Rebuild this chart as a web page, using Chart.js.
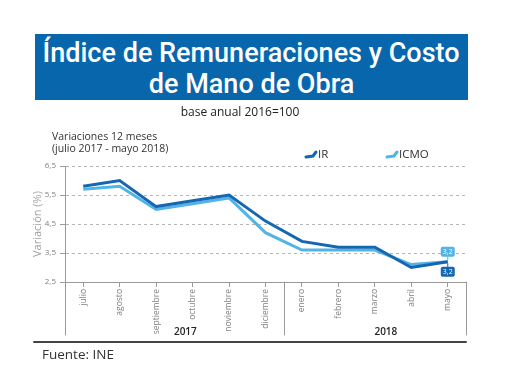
<!DOCTYPE html>
<html>
<head>
<meta charset="utf-8">
<script src="https://cdn.jsdelivr.net/npm/chart.js@4.4.0/dist/chart.umd.min.js"></script>
<style>
  html, body { margin: 0; padding: 0; background: #fff; }
  #wrap { position: relative; width: 520px; height: 390px; overflow: hidden; font-family: 'Open Sans', 'Noto Sans', sans-serif; }
  #chart { position: absolute; left: 0; top: 0; }
  .title {
    position: absolute; left: 35px; top: 34px; width: 433px; height: 66px;
    background: #0866ad; color: #fff; text-align: center;
    font-family: Roboto, 'Noto Sans', sans-serif; font-weight: 500;
    font-size: 28px; line-height: 31px; padding-top: 3px; box-sizing: border-box;
  }
  .title span { display: inline-block; white-space: nowrap; transform-origin: 50% 50%; }
  .subtitle { position: absolute; left: 0; width: 480px; top: 103px; text-align: center; font-size: 12px; color: #222; }
  .head { position: absolute; left: 52px; top: 130px; font-size: 10.5px; line-height: 12px; color: #333; }
  .source { position: absolute; left: 42px; top: 345px; font-size: 13.5px; color: #333; }
</style>
</head>
<body>
<div id="wrap">
  <canvas id="chart" width="520" height="390"></canvas>
  <div class="title"><span>Índice de Remuneraciones y Costo</span><br><span>de Mano de Obra</span></div>
  <div class="subtitle">base anual 2016=100</div>
  <div class="head">Variaciones 12 meses<br>(julio 2017 - mayo 2018)</div>
  <div class="source">Fuente: INE</div>
</div>
<script>
'use strict';
// Data
const months = ['julio', 'agosto', 'septiembre', 'octubre', 'noviembre', 'diciembre',
  'enero', 'febrero', 'marzo', 'abril', 'mayo'];
const years = ['2017', '2018'];
const monthsPerYear = [6, 5];
const irValues = [5.8, 6.0, 5.1, 5.3, 5.5, 4.6, 3.9, 3.7, 3.7, 3.0, 3.2];
const icmoValues = [5.7, 5.8, 5.0, 5.2, 5.4, 4.2, 3.6, 3.6, 3.6, 3.1, 3.2];
const seriesNames = ['IR', 'ICMO'];
const yMin = 2.5, yMax = 6.5, yStep = 1;

// Colors
const irColor = '#1467b0',
  icmoColor = '#52b4e6',
  gridColor = '#b5b5b5',
  axisColor = '#9a9a9a',
  labelColor = '#808080',
  fontFamily = "'Open Sans', 'Noto Sans', sans-serif";

function fmt(v) {
  return v.toFixed(1).replace('.', ',');
}

// squeeze the title to the width of the original (condensed face)
const titleSpans = document.querySelectorAll('.title span');
const squeeze = 417 / titleSpans[0].getBoundingClientRect().width;
titleSpans.forEach(function (s) {
  s.style.transform = 'scaleX(' + Math.min(1, squeeze) + ')';
});

// extras: legend, year groups, callouts
const extrasPlugin = {
  id: 'extras',
  afterDraw(chart) {
    const ctx = chart.ctx;
    const x = chart.scales.x;
    const area = chart.chartArea;
    ctx.save();

    // legend
    const legendPos = [306, 387];
    chart.data.datasets.forEach(function (ds, i) {
      const lx = legendPos[i], ly = 155;
      ctx.strokeStyle = ds.borderColor;
      ctx.lineWidth = 3;
      ctx.lineCap = 'round';
      ctx.beginPath();
      ctx.moveTo(lx, ly + 2);
      ctx.lineTo(lx + 7, ly + 1);
      ctx.lineTo(lx + 10, ly - 3);
      ctx.stroke();
      ctx.fillStyle = '#333';
      ctx.font = '11.5px ' + fontFamily;
      ctx.textBaseline = 'middle';
      ctx.textAlign = 'left';
      ctx.fillText(ds.label, lx + 12, ly);
    });

    // year group separators and labels
    ctx.strokeStyle = axisColor;
    ctx.lineWidth = 1;
    const bottom = area.bottom + 53;
    let start = 0;
    const seps = [area.left];
    monthsPerYear.forEach(function (n) {
      const end = start + n - 1;
      const sx = end < months.length - 1
        ? (x.getPixelForValue(end) + x.getPixelForValue(end + 1)) / 2
        : area.right;
      seps.push(sx);
      start += n;
    });
    seps.forEach(function (sx) {
      ctx.beginPath();
      ctx.moveTo(Math.round(sx) + 0.5, area.bottom);
      ctx.lineTo(Math.round(sx) + 0.5, bottom);
      ctx.stroke();
    });
    ctx.fillStyle = '#222';
    ctx.font = '600 10px ' + fontFamily;
    ctx.textAlign = 'center';
    ctx.textBaseline = 'middle';
    years.forEach(function (y, i) {
      ctx.fillText(y, (seps[i] + seps[i + 1]) / 2 + 11, area.bottom + 50);
    });
    ctx.strokeStyle = '#444';
    ctx.lineWidth = 2;
    ctx.beginPath();
    ctx.moveTo(34, area.bottom + 60);
    ctx.lineTo(area.right, area.bottom + 60);
    ctx.stroke();

    // callouts for last values
    const last = months.length - 1;
    chart.data.datasets.forEach(function (ds, i) {
      const pt = chart.getDatasetMeta(i).data[last];
      const above = i === 1;
      const w = 14, h = 10;
      const cy = above ? pt.y - 10 : pt.y + 10;
      const bx = pt.x - w / 2, by = cy - h / 2;
      ctx.fillStyle = ds.borderColor;
      ctx.beginPath();
      ctx.roundRect(bx, by, w, h, 2);
      ctx.fill();
      ctx.strokeStyle = ds.borderColor;
      ctx.lineWidth = 1;
      ctx.beginPath();
      ctx.moveTo(pt.x, above ? by + h : by);
      ctx.lineTo(pt.x, above ? by + h + 3 : by - 3);
      ctx.stroke();
      ctx.fillStyle = '#fff';
      ctx.font = '7px ' + fontFamily;
      ctx.textAlign = 'center';
      ctx.textBaseline = 'middle';
      ctx.fillText(fmt(ds.data[last]), pt.x, cy + 0.5);
    });
    ctx.restore();
  }
};

const ctx = document.getElementById('chart');
new Chart(ctx, {
  type: 'line',
  data: {
    labels: months,
    datasets: [
      {
        label: seriesNames[0],
        data: irValues,
        borderColor: irColor,
        backgroundColor: irColor,
        borderWidth: 3,
        pointRadius: 0,
        tension: 0
      },
      {
        label: seriesNames[1],
        data: icmoValues,
        borderColor: icmoColor,
        backgroundColor: icmoColor,
        borderWidth: 3,
        pointRadius: 0,
        tension: 0
      }
    ]
  },
  options: {
    responsive: false,
    animation: false,
    layout: {
      padding: { top: 166, right: 54, left: 31, bottom: 0 }
    },
    plugins: {
      legend: { display: false },
      tooltip: { enabled: false }
    },
    scales: {
      x: {
        offset: true,
        afterFit: function (scale) { scale.height = 108; },
        grid: {
          drawOnChartArea: false,
          drawTicks: true,
          tickLength: 5,
          color: axisColor
        },
        border: { color: axisColor, width: 1 },
        ticks: {
          autoSkip: false,
          maxRotation: 90,
          minRotation: 90,
          padding: 2,
          color: labelColor,
          font: { family: fontFamily, size: 8.5 }
        }
      },
      y: {
        min: yMin,
        max: yMax,
        afterFit: function (scale) { scale.width = 34; },
        title: {
          display: true,
          text: 'Variación (%)',
          color: '#a0a0a0',
          padding: 0,
          font: { family: fontFamily, size: 11 }
        },
        grid: {
          color: gridColor,
          tickColor: axisColor,
          tickLength: 5,
          drawTicks: true
        },
        border: { color: axisColor, width: 1, dash: [3, 3] },
        ticks: {
          stepSize: yStep,
          padding: 4,
          color: labelColor,
          font: { family: fontFamily, size: 8 },
          callback: function (v) { return fmt(v); }
        }
      }
    }
  },
  plugins: [extrasPlugin]
});
</script>
</body>
</html>
